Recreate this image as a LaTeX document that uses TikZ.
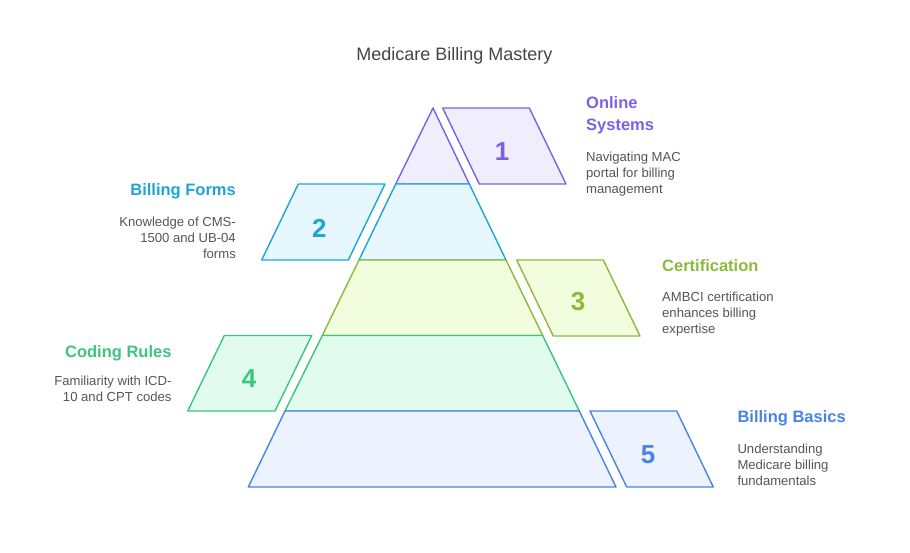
\documentclass[tikz,border=0pt]{standalone}
\usepackage{fontspec}
\setmainfont{Liberation Sans}
\usetikzlibrary{positioning}
\definecolor{pline}{HTML}{7B61E8}
\definecolor{pfill}{HTML}{F0EEFD}
\definecolor{cline}{HTML}{1EA5D6}
\definecolor{cfill}{HTML}{E6F7FD}
\definecolor{lline}{HTML}{8CBA3A}
\definecolor{lfill}{HTML}{F2FDDE}
\definecolor{gline}{HTML}{3CC480}
\definecolor{gfill}{HTML}{E1FCEF}
\definecolor{bline}{HTML}{4A84E3}
\definecolor{bfill}{HTML}{ECF2FE}
\definecolor{bodytxt}{HTML}{555555}
\tikzset{
    tier/.style = {line width=1.4pt, line join=round},
    tierp/.style = {tier, draw=pline, fill=pfill},
    tierc/.style = {tier, draw=cline, fill=cfill},
    tierl/.style = {tier, draw=lline, fill=lfill},
    tierg/.style = {tier, draw=gline, fill=gfill},
    tierb/.style = {tier, draw=bline, fill=bfill},
    num/.style = {inner sep=0pt, font=\bfseries\fontsize{26}{26}\selectfont},
    head/.style = {inner sep=0pt, font=\bfseries\fontsize{16.5}{22.3}\selectfont},
    desc/.style = {inner sep=0pt, text=bodytxt, font=\fontsize{13.1}{15.8}\selectfont}
}
\begin{document}
\begin{tikzpicture}[x=1pt,y=-1pt]
\useasboundingbox (0,0) rectangle (910,553);
\node[inner sep=0pt, text=black!73, font=\fontsize{18}{18}\selectfont] at (454.5,55.5) (title) {Medicare Billing Mastery};
% pyramid tiers
\draw[tierp] (433,108) -- (469.3,184) -- (395.7,184) -- cycle;
\draw[tierc] (395.7,184) -- (469.3,184) -- (506,260) -- (359,260) -- cycle;
\draw[tierl] (359,260) -- (506,260) -- (542.7,335.5) -- (322.3,335.5) -- cycle;
\draw[tierg] (322.3,335.5) -- (542.7,335.5) -- (579.3,411) -- (285,411) -- cycle;
\draw[tierb] (285,411) -- (579.3,411) -- (616,487) -- (248.3,487) -- cycle;
% number boxes
\draw[tierp] (442.7,108) -- (529.3,108) -- (566,184) -- (479.3,184) -- cycle;
\draw[tierc] (298.3,184) -- (385,184) -- (348.3,260) -- (261.7,260) -- cycle;
\draw[tierl] (516.7,260) -- (603.3,260) -- (640,336) -- (553.3,336) -- cycle;
\draw[tierg] (224.3,335.5) -- (311.7,335.5) -- (275,411) -- (187.7,411) -- cycle;
\draw[tierb] (590,411) -- (676.7,411) -- (713.3,487) -- (626.7,487) -- cycle;
\node[num, text=pline] at (502,152) (n1) {1};
\node[num, text=cline] at (319.3,228.3) (n2) {2};
\node[num, text=lline] at (578,302) (n3) {3};
\node[num, text=gline] at (249,379) (n4) {4};
\node[num, text=bline] at (648,455) (n5) {5};
% labels
\node[head, text=pline, anchor=north west, align=left] at (586,96.5) (h1) {Online\\Systems};
\node[desc, anchor=north west, align=left] at (586,152.3) (d1) {Navigating MAC\\portal for billing\\management};
\node[head, text=cline, anchor=north east, align=right] at (236,183) (h2) {Billing Forms};
\node[desc, anchor=north east, align=right] at (236,217.3) (d2) {Knowledge of CMS-\\1500 and UB-04\\forms};
\node[head, text=lline, anchor=north west, align=left] at (662,259) (h3) {Certification};
\node[desc, anchor=north west, align=left] at (662,292.3) (d3) {AMBCI certification\\enhances billing\\expertise};
\node[head, text=gline, anchor=north east, align=right] at (171.7,345.5) (h4) {Coding Rules};
\node[desc, anchor=north east, align=right] at (171.7,376.3) (d4) {Familiarity with ICD-\\10 and CPT codes};
\node[head, text=bline, anchor=north west, align=left] at (737.3,410) (h5) {Billing Basics};
\node[desc, anchor=north west, align=left] at (737.3,444.3) (d5) {Understanding\\Medicare billing\\fundamentals};
\end{tikzpicture}
\end{document}
